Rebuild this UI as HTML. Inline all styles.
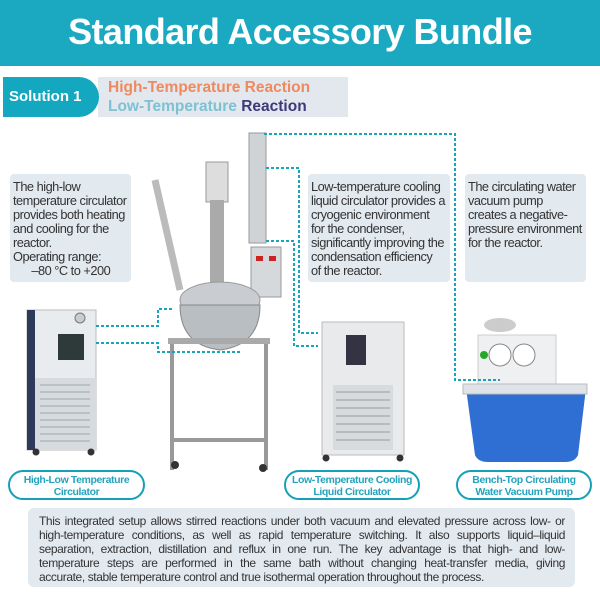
<!DOCTYPE html>
<html><head><meta charset="utf-8"><style>
*{margin:0;padding:0;box-sizing:border-box}
body{width:600px;height:600px;background:#fff;position:relative;overflow:hidden;font-family:"Liberation Sans",Arial,sans-serif}
.hdr{position:absolute;left:0;top:0;width:600px;height:66px;background:#1ba9c2;color:#fff;font-weight:bold;font-size:36px;text-align:center;line-height:64px;letter-spacing:-0.6px}
.sub{position:absolute;left:98px;top:77px;width:250px;height:40px;background:#e3e8ee}
.pill{position:absolute;left:3px;top:77px;width:96px;height:40px;background:#13a7c0;border-radius:0 20px 20px 0;color:#fff;font-weight:bold;font-size:15px;line-height:40px;padding-left:6px}
.t1{position:absolute;left:108px;top:79px;font-size:15.5px;font-weight:bold;color:#ee8a5e}
.t2{position:absolute;left:108px;top:98px;font-size:15.5px;font-weight:bold;color:#7cc2d3}
.t2 b{color:#3c3a78}
.box{position:absolute;background:#e2e9ef;border-radius:4px;font-size:12.8px;line-height:14px;color:#333;padding:6px 3px;letter-spacing:-0.5px;white-space:nowrap}
.lab{position:absolute;top:470px;height:30px;border:2px solid #15a0b8;border-radius:15px;color:#23a3bd;font-weight:bold;font-size:10.5px;line-height:12px;text-align:center;padding-top:2px;letter-spacing:-0.4px}
.bot{position:absolute;left:28px;top:508px;width:547px;height:79px;background:#e2e9ef;border-radius:6px;font-size:12px;line-height:14px;color:#333;padding:6px 10px 0 11px;letter-spacing:-0.4px}
.bot span{display:block;text-align:justify;text-align-last:justify;white-space:nowrap;overflow:hidden}
.bot span.l{text-align-last:left}
svg{position:absolute;left:0;top:0}
</style></head><body>
<div class="hdr">Standard Accessory Bundle</div>
<div class="sub"></div>
<div class="pill">Solution 1</div>
<div class="t1">High-Temperature Reaction</div>
<div class="t2">Low-Temperature <b>Reaction</b></div>

<svg width="600" height="600" viewBox="0 0 600 600">
<rect x="27" y="310" width="69" height="140" fill="#e9ecef" stroke="#bbb"/>
<rect x="27" y="310" width="8" height="140" fill="#2d3a5a"/>
<rect x="35" y="378" width="61" height="72" fill="#d7dbe0"/>
<g stroke="#9aa" stroke-width="1"><line x1="40" y1="385" x2="90" y2="385"/><line x1="40" y1="392" x2="90" y2="392"/><line x1="40" y1="399" x2="90" y2="399"/><line x1="40" y1="406" x2="90" y2="406"/><line x1="40" y1="413" x2="90" y2="413"/><line x1="40" y1="420" x2="90" y2="420"/><line x1="40" y1="427" x2="90" y2="427"/><line x1="40" y1="434" x2="90" y2="434"/><line x1="40" y1="441" x2="90" y2="441"/></g>
<rect x="58" y="334" width="26" height="26" fill="#2e3a3a"/>
<circle cx="80" cy="318" r="5" fill="#ccc" stroke="#777"/>
<circle cx="36" cy="452" r="3.5" fill="#333"/><circle cx="91" cy="452" r="3.5" fill="#333"/>
<line x1="155" y1="180" x2="180" y2="290" stroke="#bbb" stroke-width="7"/>
<rect x="206" y="162" width="22" height="40" fill="#ddd" stroke="#999"/>
<rect x="210" y="200" width="14" height="90" fill="#aaa"/>
<rect x="249" y="133" width="17" height="110" fill="#cfd3d6" stroke="#999"/>
<rect x="251" y="247" width="30" height="50" fill="#d6d9dc" stroke="#999"/>
<rect x="256" y="256" width="7" height="5" fill="#c22"/><rect x="269" y="256" width="7" height="5" fill="#c22"/>
<ellipse cx="220" cy="300" rx="40" ry="18" fill="#c9cdd1" stroke="#999"/>
<path d="M180 305 Q180 345 220 350 Q260 345 260 305 Z" fill="#b9bec2" stroke="#888"/>
<rect x="168" y="338" width="102" height="6" fill="#aaa"/>
<g stroke="#999" stroke-width="4"><line x1="172" y1="344" x2="172" y2="470"/><line x1="266" y1="344" x2="266" y2="470"/><line x1="172" y1="440" x2="266" y2="440"/></g>
<circle cx="175" cy="465" r="4" fill="#333"/><circle cx="263" cy="468" r="4" fill="#333"/>
<rect x="322" y="322" width="82" height="133" fill="#e8eaec" stroke="#bbb"/>
<rect x="346" y="335" width="20" height="30" fill="#334"/>
<rect x="333" y="385" width="60" height="65" fill="#d8dbde"/>
<g stroke="#999"><line x1="336" y1="392" x2="390" y2="392"/><line x1="336" y1="400" x2="390" y2="400"/><line x1="336" y1="408" x2="390" y2="408"/><line x1="336" y1="416" x2="390" y2="416"/><line x1="336" y1="424" x2="390" y2="424"/><line x1="336" y1="432" x2="390" y2="432"/><line x1="336" y1="440" x2="390" y2="440"/></g>
<circle cx="326" cy="458" r="3.5" fill="#333"/><circle cx="400" cy="458" r="3.5" fill="#333"/>
<rect x="478" y="335" width="78" height="65" fill="#eef0f1" stroke="#ccc"/>
<ellipse cx="500" cy="325" rx="16" ry="7" fill="#ccc"/>
<circle cx="500" cy="355" r="11" fill="#fff" stroke="#888"/><circle cx="524" cy="355" r="11" fill="#fff" stroke="#888"/>
<circle cx="484" cy="355" r="4" fill="#2a2"/>
<path d="M466 388 L586 388 L578 455 Q575 462 565 462 L488 462 Q478 462 475 455 Z" fill="#2f6ed2"/>
<rect x="463" y="384" width="124" height="10" fill="#dfe3e8" stroke="#bbb"/>
<g fill="none" stroke="#1aa3ba" stroke-width="2" stroke-dasharray="3,2">
<polyline points="264,134 455,134 455,380 500,380"/>
<polyline points="266,168 299,168 299,333 318,333"/>
<polyline points="266,241 294,241 294,346 318,346"/>
<polyline points="96,326 158,326 158,309 172,309"/>
<polyline points="96,343 158,343 158,352 240,352"/>
</g>
</svg>

<div class="box" style="left:10px;top:174px;width:121px;height:108px">The high-low<br>temperature circulator<br>provides both heating<br>and cooling for the<br>reactor.<br>Operating range:<br>&nbsp;&nbsp;&nbsp;&nbsp;&nbsp;&nbsp;–80 °C to +200</div>
<div class="box" style="left:308px;top:174px;width:142px;height:108px">Low-temperature cooling<br>liquid circulator provides a<br>cryogenic environment<br>for the condenser,<br>significantly improving the<br>condensation efficiency<br>of the reactor.</div>
<div class="box" style="left:465px;top:174px;width:121px;height:108px">The circulating water<br>vacuum pump<br>creates a negative-<br>pressure environment<br>for the reactor.</div>

<div class="lab" style="left:8px;width:137px">High-Low Temperature<br>Circulator</div>
<div class="lab" style="left:284px;width:136px">Low-Temperature Cooling<br>Liquid Circulator</div>
<div class="lab" style="left:456px;width:136px">Bench-Top Circulating<br>Water Vacuum Pump</div>

<div class="bot"><span>This integrated setup allows stirred reactions under both vacuum and elevated pressure across low- or</span><span>high-temperature conditions, as well as rapid temperature switching. It also supports liquid–liquid</span><span>separation, extraction, distillation and reflux in one run. The key advantage is that high- and low-</span><span>temperature steps are performed in the same bath without changing heat-transfer media, giving</span><span class="l">accurate, stable temperature control and true isothermal operation throughout the process.</span></div>
</body></html>
